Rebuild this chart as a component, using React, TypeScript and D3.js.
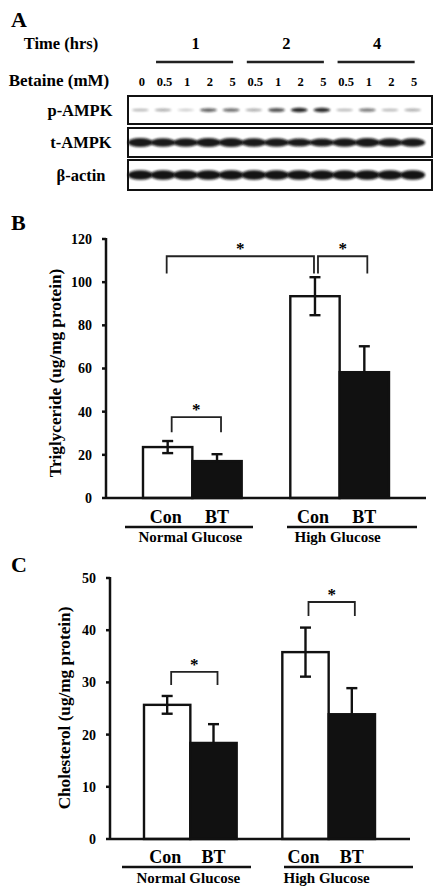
import React from "react";
import * as d3 from "d3";

// ---------- Panel A data ----------
const timeGroups = ["1", "2", "4"];
const timeGroupLanes = [[1, 4], [5, 8], [9, 12]];
const betaineLabels = ["0", "0.5", "1", "2", "5", "0.5", "1", "2", "5", "0.5", "1", "2", "5"];
const blotRows = ["p-AMPK", "t-AMPK", "β-actin"];
const pAMPK = [0.3, 0.35, 0.22, 0.65, 0.6, 0.35, 0.7, 0.9, 0.88, 0.3, 0.55, 0.3, 0.35];
const tAMPK = [0.95, 0.85, 0.85, 0.9, 0.95, 0.8, 0.85, 0.7, 0.7, 0.85, 0.95, 0.85, 0.85];
const bActin = [1, 1, 1, 1, 1, 1, 1, 1, 1, 1, 1, 1, 1];

// ---------- Panel B/C data ----------
const groups = ["Normal Glucose", "High Glucose"];
const subgroups = ["Con", "BT"];
const trigMean = [23.6, 17.1, 93.5, 58.3];
const trigErr = [2.8, 3.2, 8.8, 12.0];
const trigTicks = [0, 20, 40, 60, 80, 100, 120];
const cholMean = [25.7, 18.4, 35.8, 23.9];
const cholErr = [1.7, 3.6, 4.7, 5.0];
const cholTicks = [0, 10, 20, 30, 40, 50];

const FONT = "'Liberation Serif', 'Times New Roman', serif";

type Bracket = { a: number; b: number; top: number; legA: number; legB: number; dx: number };

function BarPanel(props: {
  letter: string;
  letterY: number;
  yTop: number;
  yBottom: number;
  maxV: number;
  ticks: number[];
  axisX: number;
  axisEnd: number;
  barStart: number;
  barEnd: number;
  mean: number[];
  err: number[];
  ylabel: string;
  ylabelX: number;
  ylabelY: number;
  brackets: Bracket[];
  labelY: number;
  lineY: number;
  groupLabelY: number;
  lineExt: [number, number][];
}) {
  const p = props;
  const y = d3.scaleLinear().domain([0, p.maxV]).range([p.yBottom, p.yTop]);
  const xg = d3.scaleBand().domain(groups).range([p.barStart, p.barEnd]).paddingInner(0.33);
  const xs = d3.scaleBand().domain(subgroups).range([0, xg.bandwidth()]);
  const cx = (i: number) => {
    const g = groups[Math.floor(i / 2)];
    const s = subgroups[i % 2];
    return (xg(g) as number) + (xs(s) as number) + xs.bandwidth() / 2;
  };
  return (
    <g>
      <text x={11} y={p.letterY} fontFamily={FONT} fontWeight="bold" fontSize={22}>{p.letter}</text>
      {/* y axis */}
      <line x1={p.axisX} x2={p.axisX} y1={p.yTop - 1} y2={p.yBottom} stroke="#111" strokeWidth={2.5} />
      {p.ticks.map((t) => (
        <g key={t}>
          <line x1={p.axisX - 4} x2={p.axisX} y1={y(t)} y2={y(t)} stroke="#111" strokeWidth={2.5} />
          <text x={p.axisX - 14} y={y(t)} dy="0.35em" textAnchor="end" fontFamily={FONT} fontWeight="bold" fontSize={14}>{t}</text>
        </g>
      ))}
      <text transform={`translate(${p.ylabelX},${p.ylabelY}) rotate(-90)`} textAnchor="middle" fontFamily={FONT} fontWeight="bold" fontSize={17.2}>{p.ylabel}</text>
      {/* bars */}
      {p.mean.map((m, i) => {
        const g = groups[Math.floor(i / 2)];
        const s = subgroups[i % 2];
        const x0 = (xg(g) as number) + (xs(s) as number);
        const filled = s === "BT";
        return (
          <rect key={i} x={x0} y={y(m)} width={xs.bandwidth()} height={p.yBottom - y(m)} fill={filled ? "#111" : "#fff"} stroke="#111" strokeWidth={2.4} />
        );
      })}
      {/* error bars */}
      {p.mean.map((m, i) => {
        const c = cx(i);
        const e = p.err[i];
        const filled = i % 2 === 1;
        const lo = filled ? m : m - e;
        return (
          <g key={"e" + i} stroke="#111" strokeWidth={2.4}>
            <line x1={c} x2={c} y1={y(m + e)} y2={y(lo)} />
            <line x1={c - 5.5} x2={c + 5.5} y1={y(m + e)} y2={y(m + e)} />
            {!filled && <line x1={c - 5.5} x2={c + 5.5} y1={y(m - e)} y2={y(m - e)} />}
          </g>
        );
      })}
      {/* x axis */}
      <line x1={p.axisX} x2={p.axisEnd} y1={p.yBottom} y2={p.yBottom} stroke="#111" strokeWidth={2.5} />
      {/* brackets */}
      {p.brackets.map((b, i) => {
        const xa = cx(b.a) + b.dx;
        const xb = cx(b.b) + b.dx;
        return (
          <g key={"b" + i}>
            <path d={`M${xa},${y(b.legA)}V${y(b.top)}H${xb}V${y(b.legB)}`} fill="none" stroke="#222" strokeWidth={1.8} />
            <text x={(xa + xb) / 2} y={y(b.top) + 2} dy="-0.25em" textAnchor="middle" fontFamily={FONT} fontWeight="bold" fontSize={17}>*</text>
          </g>
        );
      })}
      {/* category labels */}
      {p.mean.map((_, i) => (
        <text key={"l" + i} x={cx(i) - (i % 2 === 0 ? 2 : 0)} y={p.labelY} textAnchor="middle" fontFamily={FONT} fontWeight="bold" fontSize={18}>{subgroups[i % 2]}</text>
      ))}
      {groups.map((g, gi) => (
        <g key={g}>
          <line x1={p.lineExt[gi][0]} x2={p.lineExt[gi][1]} y1={p.lineY} y2={p.lineY} stroke="#111" strokeWidth={2.5} />
          <text x={(xg(g) as number) + xg.bandwidth() / 2 - 2} y={p.groupLabelY} textAnchor="middle" fontFamily={FONT} fontWeight="bold" fontSize={15}>{g}</text>
        </g>
      ))}
    </g>
  );
}

function Blots() {
  const lane = d3.scaleBand<number>().domain(d3.range(13)).range([129, 424]);
  const lc = (i: number) => (lane(i) as number) + lane.bandwidth() / 2;
  const boxes = [
    { y0: 96, y1: 124, cy: 110 },
    { y0: 128, y1: 157, cy: 142.5 },
    { y0: 160, y1: 190, cy: 175 },
  ];
  const labelX = [80, 81, 81];
  return (
    <g>
      <defs>
        <filter id="blur1" x="-20%" y="-100%" width="140%" height="300%">
          <feGaussianBlur stdDeviation="0.9" />
        </filter>
      </defs>
      <text x={11} y={27} fontFamily={FONT} fontWeight="bold" fontSize={22}>A</text>
      <text x={61} y={49} textAnchor="middle" fontFamily={FONT} fontWeight="bold" fontSize={16.5}>Time (hrs)</text>
      <text x={59} y={86} textAnchor="middle" fontFamily={FONT} fontWeight="bold" fontSize={17}>Betaine (mM)</text>
      {timeGroups.map((t, i) => {
        const [a, b] = timeGroupLanes[i];
        const x0 = lc(a) - 7;
        const x1 = lc(b) + 2;
        return (
          <g key={t}>
            <text x={(x0 + x1) / 2 + 1} y={49} textAnchor="middle" fontFamily={FONT} fontWeight="bold" fontSize={16.5}>{t}</text>
            <line x1={x0} x2={x1} y1={62} y2={62} stroke="#222" strokeWidth={2.5} />
          </g>
        );
      })}
      {betaineLabels.map((l, i) => (
        <text key={i} x={lc(i) + 1.5} y={86} textAnchor="middle" fontFamily={FONT} fontWeight="bold" fontSize={12.5}>{l}</text>
      ))}
      {boxes.map((b, i) => (
        <g key={i}>
          <rect x={128} y={b.y0} width={304} height={b.y1 - b.y0} fill="#fff" stroke="#111" strokeWidth={2} />
          <text x={labelX[i]} y={b.cy} dy="0.35em" textAnchor="middle" fontFamily={FONT} fontWeight="bold" fontSize={16.5}>{blotRows[i]}</text>
        </g>
      ))}
      {pAMPK.map((v, i) => (
        <ellipse key={"p" + i} cx={lc(i)} cy={110} rx={8.5} ry={0.9 + v * 1.5} fill="#111" opacity={v} filter="url(#blur1)" />
      ))}
      {tAMPK.map((v, i) => (
        <ellipse key={"t" + i} cx={lc(i)} cy={142.5} rx={12.5} ry={2.5 + v * 2.2} fill="#111" opacity={0.95} filter="url(#blur1)" />
      ))}
      {bActin.map((v, i) => (
        <ellipse key={"a" + i} cx={lc(i)} cy={175} rx={12.5} ry={4.8 * v} fill="#111" opacity={0.97} filter="url(#blur1)" />
      ))}
    </g>
  );
}

export default function App() {
  return (
    <svg width={441} height={894} style={{ position: "absolute", left: 0, top: 0, background: "#fff" }}>
      <rect width={441} height={894} fill="#fff" />
      <Blots />
      <BarPanel
        letter="B"
        letterY={230}
        yTop={239}
        yBottom={498}
        maxV={120}
        ticks={trigTicks}
        axisX={106}
        axisEnd={426}
        barStart={143}
        barEnd={389}
        mean={trigMean}
        err={trigErr}
        ylabel="Triglyceride (ug/mg protein)"
        ylabelX={61}
        ylabelY={373}
        brackets={[
          { a: 0, b: 2, top: 112, legA: 104, legB: 104, dx: -1 },
          { a: 2, b: 3, top: 112, legA: 104, legB: 104, dx: 3 },
          { a: 0, b: 1, top: 37.5, legA: 30.5, legB: 30.5, dx: 4 },
        ]}
        labelY={523}
        lineY={527}
        groupLabelY={542}
        lineExt={[[125, 253], [287, 417]]}
      />
      <BarPanel
        letter="C"
        letterY={572}
        yTop={578}
        yBottom={839}
        maxV={50}
        ticks={cholTicks}
        axisX={110}
        axisEnd={410}
        barStart={144}
        barEnd={375}
        mean={cholMean}
        err={cholErr}
        ylabel="Cholesterol (ug/mg protein)"
        ylabelX={70}
        ylabelY={708}
        brackets={[
          { a: 0, b: 1, top: 32, legA: 29.5, legB: 29.5, dx: 4 },
          { a: 2, b: 3, top: 45.4, legA: 42.7, legB: 42.7, dx: 3 },
        ]}
        labelY={863}
        lineY={867}
        groupLabelY={883}
        lineExt={[[122, 251], [284, 413]]}
      />
    </svg>
  );
}
